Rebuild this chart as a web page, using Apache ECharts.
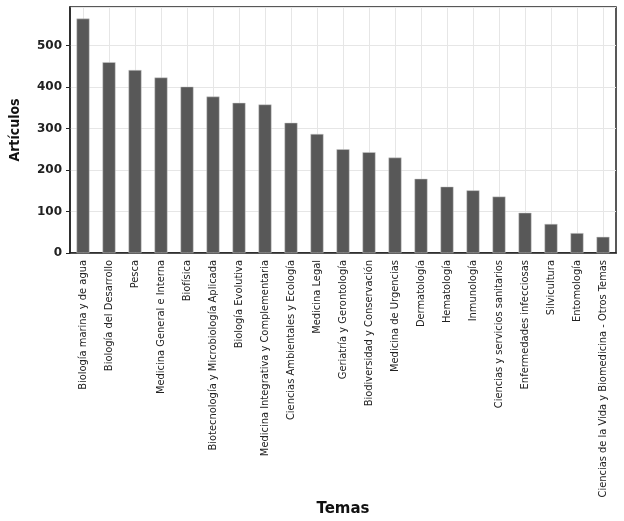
<!DOCTYPE html>
<html><head><meta charset="utf-8">
<script src="https://cdn.jsdelivr.net/npm/echarts@6/dist/echarts.min.js"></script>
<style>html,body{margin:0;padding:0;background:#fff}#c{width:624px;height:521px}</style>
</head><body><div id="c"></div>
<script>
const categories = [
  "Biología marina y de agua","Biología del Desarrollo","Pesca","Medicina General e Interna",
  "Biofísica","Biotecnología y Microbiología Aplicada","Biología Evolutiva",
  "Medicina Integrativa y Complementaria","Ciencias Ambientales y Ecología","Medicina Legal",
  "Geriatría y Gerontología","Biodiversidad y Conservación","Medicina de Urgencias",
  "Dermatología","Hematología","Inmunología","Ciencias y servicios sanitarios",
  "Enfermedades infecciosas","Silvicultura","Entomología",
  "Ciencias de la Vida y Biomedicina - Otros Temas"
];
const articulos = [565,460,441,423,401,377,362,358,314,287,250,243,230,179,160,151,136,97,70,48,39];
const yTicks = [0,100,200,300,400,500];

const condensed = "'DejaVu Sans Condensed', 'Liberation Sans Narrow', 'Roboto Condensed', 'DejaVu Sans', sans-serif";
const chart = echarts.init(document.getElementById('c'));
chart.setOption({
  animation:false,
  grid:{left:70,right:8,top:7,bottom:268,outerBoundsMode:'none',containLabel:false,show:true,borderColor:'#222',borderWidth:1.5,backgroundColor:'#fff'},
  xAxis:{
    type:'category', data:categories,
    name:'Temas', nameLocation:'middle', nameGap:243,
    nameTextStyle:{fontFamily:'DejaVu Sans',fontWeight:'bold',fontSize:15,color:'#111'},
    axisLine:{lineStyle:{color:'#222',width:1.5}},
    axisTick:{alignWithLabel:true,length:4,lineStyle:{color:'#222'}},
    axisLabel:{rotate:90,interval:0,fontFamily:condensed,fontSize:11,color:'#222',margin:7},
    splitLine:{show:true,alignWithLabel:true,lineStyle:{color:'#e6e6e6',width:1}}
  },
  yAxis:{
    type:'value', min:0, max:593, interval:100,
    name:'Artículos', nameLocation:'middle', nameGap:48,
    nameTextStyle:{fontFamily:condensed,fontWeight:'bold',fontSize:14,color:'#111'},
    axisLine:{show:true,lineStyle:{color:'#222',width:1.5}},
    axisTick:{show:true,length:4,lineStyle:{color:'#222'}},
    axisLabel:{showMaxLabel:false,fontFamily:'DejaVu Sans',fontWeight:'bold',fontSize:12,color:'#222',margin:8,
      formatter:v=>yTicks.includes(v)?String(v):''},
    splitLine:{show:true,lineStyle:{color:'#e6e6e6',width:1}}
  },
  series:[{
    type:'bar', data:articulos, barWidth:'50%',
    itemStyle:{color:'#585858',borderColor:'#cfcfcf',borderWidth:0.5}
  }]
});
</script></body></html>
